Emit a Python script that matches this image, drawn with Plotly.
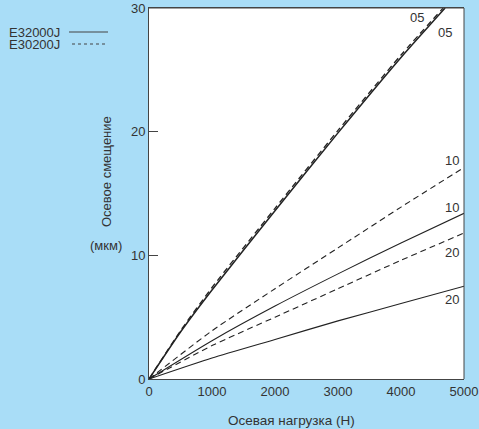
import plotly.graph_objects as go

# Data
load = [0, 1000, 2000, 3000, 4000, 5000]
load_05 = [0, 500, 1000, 2000, 3000, 4000, 4700]
load_05d = [0, 500, 1000, 2000, 3000, 4000, 4670]

e32000_05 = [0, 3.8, 7.2, 13.6, 19.9, 26.0, 30.0]
e30200_05 = [0, 3.9, 7.4, 13.8, 20.1, 26.2, 30.0]
e32000_10 = [0, 3.1, 5.9, 8.5, 11.0, 13.4]
e30200_10 = [0, 3.9, 7.3, 10.6, 13.9, 17.1]
e32000_20 = [0, 1.7, 3.2, 4.7, 6.1, 7.5]
e30200_20 = [0, 2.7, 5.0, 7.3, 9.6, 11.8]

curve_labels = ["05", "05", "10", "10", "20", "20"]
label_x = [4254, 4698, 4810, 4810, 4810, 4810]
label_y = [29.2, 28.0, 17.7, 13.9, 10.2, 6.4]

y_ticks = [0, 10, 20, 30]
x_ticks = [0, 1000, 2000, 3000, 4000, 5000]

LINE = "#222222"
DASH = "6px,4px"
FONT = "Liberation Sans, Arial, sans-serif"
TXT = "#333333"
FS = 13
BG = "#a9ddf7"

fig = go.Figure()
series = [
    (load_05, e32000_05, "solid", 1.5),
    (load_05d, e30200_05, DASH, 1.3),
    (load, e32000_10, "solid", 1.1),
    (load, e30200_10, DASH, 1.1),
    (load, e32000_20, "solid", 1.1),
    (load, e30200_20, DASH, 1.1),
]
for xs, ys, dash, w in series:
    fig.add_trace(go.Scatter(x=xs, y=ys, mode="lines",
                             line=dict(color=LINE, width=w, dash=dash, shape="spline", smoothing=0.6),
                             showlegend=False, hoverinfo="skip"))

for t, lx, ly in zip(curve_labels, label_x, label_y):
    fig.add_annotation(x=lx, y=ly, text=t, showarrow=False, xanchor="center", yanchor="middle",
                       font=dict(family=FONT, size=FS, color=TXT))

# Legend (text left, line sample right)
legend_names = ["E32000J", "E30200J"]
legend_dash = ["solid", "3px,3px"]
legend_y_px = [33, 45]
H = 429
W = 479
ml, mr, mt, mb = 149, 15, 8, 50
pw = W - ml - mr
ph = H - mt - mb


def px_to_paper_x(px):
    return (px - ml) / pw


def px_to_paper_y(py):
    return 1 - (py - mt) / ph


for name, d, py in zip(legend_names, legend_dash, legend_y_px):
    fig.add_annotation(xref="paper", yref="paper", x=px_to_paper_x(7), y=px_to_paper_y(py),
                       xanchor="left", yanchor="middle", text=name, showarrow=False,
                       font=dict(family=FONT, size=FS, color=TXT))
    fig.add_shape(type="line", xref="paper", yref="paper", x0=px_to_paper_x(69 if d == "solid" else 72),
                  x1=px_to_paper_x(108),
                  y0=px_to_paper_y(py - 1), y1=px_to_paper_y(py - 1),
                  line=dict(color="#444444", width=1.2, dash=d))

# Axis titles as annotations
fig.add_annotation(xref="paper", yref="paper", x=px_to_paper_x(291), y=px_to_paper_y(420),
                   xanchor="center", yanchor="middle",
                   text="Осевая нагрузка (Н)", showarrow=False, font=dict(family=FONT, size=13.5, color=TXT))
fig.add_annotation(xref="paper", yref="paper", x=px_to_paper_x(107), y=px_to_paper_y(172),
                   xanchor="center", yanchor="middle",
                   text="Осевое смещение", textangle=-90, showarrow=False,
                   font=dict(family=FONT, size=FS, color=TXT))
fig.add_annotation(xref="paper", yref="paper", x=px_to_paper_x(106), y=px_to_paper_y(245),
                   xanchor="center", yanchor="middle",
                   text="(мкм)", showarrow=False, font=dict(family=FONT, size=FS, color=TXT))

fig.update_xaxes(range=[0, 5000], tickvals=x_ticks, ticks="", showgrid=False, zeroline=False,
                 showline=True, linecolor="#444444", linewidth=1, mirror=True, automargin=False,
                 tickfont=dict(family=FONT, size=FS, color=TXT))
fig.update_yaxes(range=[0, 30], tickvals=y_ticks, ticks="inside", ticklen=9, tickcolor="#444444",
                 showgrid=False, zeroline=False, showline=True, linecolor="#444444", linewidth=1,
                 mirror=False, automargin=False,
                 tickfont=dict(family=FONT, size=FS, color=TXT))
fig.add_shape(type="line", xref="paper", yref="paper", x0=1, x1=1, y0=0, y1=1, line=dict(color="#444444", width=1))
fig.add_shape(type="line", xref="paper", yref="paper", x0=0, x1=1, y0=1, y1=1, line=dict(color="#444444", width=1))

fig.update_layout(width=W, height=H, margin=dict(l=ml, r=mr, t=mt, b=mb),
                  paper_bgcolor=BG, plot_bgcolor="#ffffff",
                  font=dict(family=FONT, size=FS, color=TXT))

fig.write_html("out.html", config={"displayModeBar": False, "staticPlot": True},
               post_script="document.body.style.margin='0px';document.body.style.overflow='hidden';"
                           "document.body.style.background='" + BG + "';")
